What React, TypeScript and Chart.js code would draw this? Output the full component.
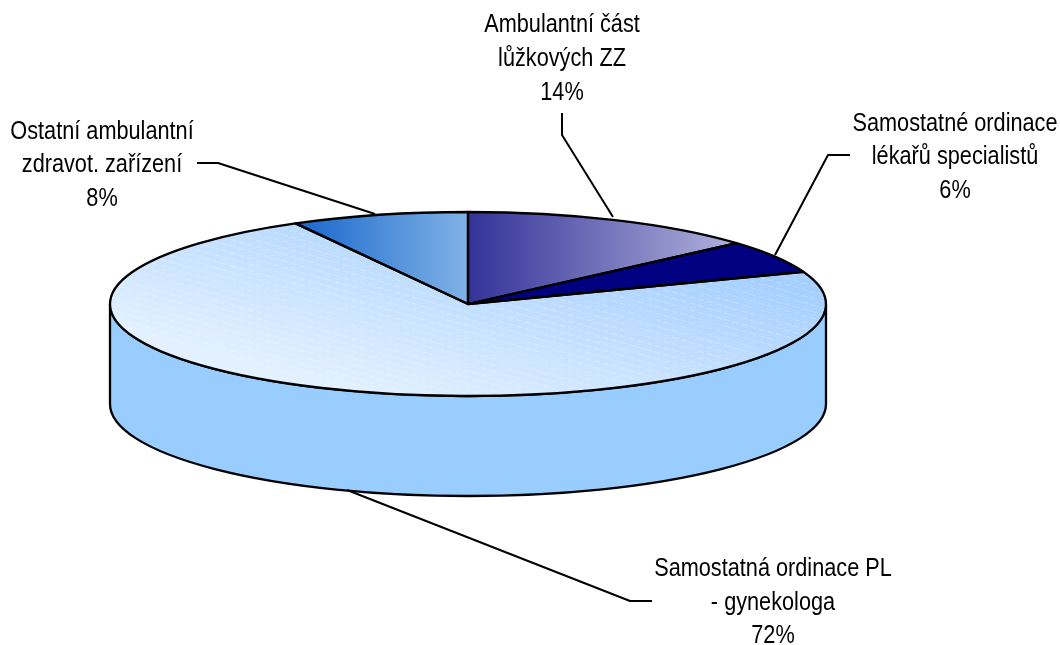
import React, { useEffect, useRef } from "react";
import { Chart, registerables } from "chart.js";

Chart.register(...registerables);

const categories = [
  "Ambulantní část lůžkových ZZ",
  "Samostatné ordinace lékařů specialistů",
  "Samostatná ordinace PL - gynekologa",
  "Ostatní ambulantní zdravot. zařízení",
];
const shares = [13.5, 5.8, 72.7, 8];
const percentLabels = ["14%", "6%", "72%", "8%"];
const labelLines = [
  ["Ambulantní část", "lůžkových ZZ"],
  ["Samostatné ordinace", "lékařů specialistů"],
  ["Samostatná ordinace PL", "- gynekologa"],
  ["Ostatní ambulantní", "zdravot. zařízení"],
];
const sideColors = ["#333399", "#000080", "#99CCFF", "#1A66CC"];

const PIE = { cx: 468, cy: 304, rx: 358, ry: 92, depth: 100 };
const LABEL_POS = [
  { x: 562, ys: [32, 66, 100] },
  { x: 955, ys: [130.5, 163.5, 197.5] },
  { x: 773, ys: [576, 610, 643] },
  { x: 102, ys: [139, 172, 206] },
];
const LEADERS = [
  [[562, 113], [562, 135], [613, 217]],
  [[850, 155], [828, 155], [775, 255]],
  [[652, 601], [630, 601], [347, 490]],
  [[197, 163], [218, 163], [375, 214]],
];
const FILLS: any[] = [
  { p0: [468, 0], p1: [737, 0], stops: ["#333399", "#B2B2DC"] },
  { color: "#000080" },
  { p0: [300, 373.5], p1: [355, 167], stops: ["#E2F0FF", "#A5CFFF"] },
  { p0: [297, 0], p1: [468, 0], stops: ["#1A66CC", "#80B3E6"] },
];

function geometry(chart: any) {
  const ox = chart.width / 2;
  const oy = chart.height / 2;
  const R = Math.min(chart.width, chart.height) / 2;
  return { ox, oy, R, sx: PIE.rx / R, sy: PIE.ry / R };
}

function sliceFill(c: any) {
  const spec = FILLS[c.dataIndex];
  if (!spec || spec.color) return spec ? spec.color : "#000";
  const { ox, oy, sx, sy } = geometry(c.chart);
  const [x0, y0] = spec.p0;
  const [x1, y1] = spec.p1;
  const L2 = (x1 - x0) ** 2 + (y1 - y0) ** 2;
  const gx = ((x1 - x0) / L2) * sx;
  const gy = ((y1 - y0) / L2) * sy;
  const G2 = gx * gx + gy * gy;
  const ux = (x0 - PIE.cx) / sx + ox;
  const uy = (y0 - PIE.cy) / sy + oy;
  const g = c.chart.ctx.createLinearGradient(ux, uy, ux + gx / G2, uy + gy / G2);
  g.addColorStop(0, spec.stops[0]);
  g.addColorStop(1, spec.stops[1]);
  return g;
}

function slicePath(ctx: CanvasRenderingContext2D, arc: any) {
  ctx.beginPath();
  ctx.moveTo(PIE.cx, PIE.cy);
  ctx.ellipse(PIE.cx, PIE.cy, PIE.rx, PIE.ry, 0, arc.startAngle, arc.endAngle);
  ctx.closePath();
}

const pie3d = {
  id: "pie3d",
  beforeDatasetsDraw(chart: any) {
    const ctx = chart.ctx;
    const { ox, oy, sx, sy } = geometry(chart);
    const arcs = chart.getDatasetMeta(0).data;
    // side wall: the part of each slice facing the viewer
    ctx.save();
    ctx.lineWidth = 2.3;
    ctx.strokeStyle = "#000";
    arcs.forEach((arc: any, i: number) => {
      const a = Math.max(arc.startAngle, 0);
      const b = Math.min(arc.endAngle, Math.PI);
      if (b <= a) return;
      ctx.beginPath();
      ctx.ellipse(PIE.cx, PIE.cy, PIE.rx, PIE.ry, 0, a, b);
      ctx.ellipse(PIE.cx, PIE.cy + PIE.depth, PIE.rx, PIE.ry, 0, b, a, true);
      ctx.closePath();
      ctx.fillStyle = sideColors[i];
      ctx.fill();
      ctx.stroke();
    });
    ctx.restore();
    ctx.save();
    ctx.translate(PIE.cx, PIE.cy);
    ctx.scale(sx, sy);
    ctx.translate(-ox, -oy);
  },
  afterDatasetsDraw(chart: any) {
    const ctx = chart.ctx;
    ctx.restore();
    const arcs = chart.getDatasetMeta(0).data;

    // fine dashed hatching on the large slice
    ctx.save();
    slicePath(ctx, arcs[2]);
    ctx.clip();
    ctx.strokeStyle = "rgba(255,255,255,0.26)";
    ctx.lineWidth = 1;
    ctx.setLineDash([6, 3]);
    for (let y = -200; y < 600; y += 6.5) {
      ctx.beginPath();
      ctx.moveTo(100, y);
      ctx.lineTo(840, y + 740 * 0.28);
      ctx.stroke();
    }
    ctx.restore();

    // slice outlines with an even line width
    ctx.save();
    ctx.strokeStyle = "#000";
    ctx.lineWidth = 2.3;
    ctx.lineJoin = "round";
    arcs.forEach((arc: any) => {
      slicePath(ctx, arc);
      ctx.stroke();
    });
    // leader lines
    ctx.lineWidth = 2;
    LEADERS.forEach((pts) => {
      ctx.beginPath();
      pts.forEach(([x, y], k) => (k ? ctx.lineTo(x, y) : ctx.moveTo(x, y)));
      ctx.stroke();
    });
    // labels: the reference's text is slightly condensed
    ctx.fillStyle = "#000";
    ctx.font = '25px "Liberation Sans", Arial, sans-serif';
    ctx.textAlign = "center";
    ctx.textBaseline = "alphabetic";
    LABEL_POS.forEach((pos, i) => {
      const lines = [...labelLines[i], percentLabels[i]];
      lines.forEach((t, k) => {
        ctx.save();
        ctx.translate(pos.x, pos.ys[k]);
        ctx.scale(0.868, 1);
        ctx.fillText(t, 0, 0);
        ctx.restore();
      });
    });
    ctx.restore();
  },
};

export default function App() {
  const ref = useRef<HTMLCanvasElement>(null);
  useEffect(() => {
    const chart = new Chart(ref.current as HTMLCanvasElement, {
      type: "pie",
      data: {
        labels: categories,
        datasets: [{ data: shares, backgroundColor: sliceFill as any, borderWidth: 0 }],
      },
      options: {
        responsive: false,
        animation: false,
        layout: { padding: 0 },
        plugins: { legend: { display: false }, tooltip: { enabled: false } },
      },
      plugins: [pie3d as any],
    });
    return () => chart.destroy();
  }, []);
  return (
    <div style={{ position: "absolute", left: 0, top: 0, width: 1060, height: 645, background: "#fff" }}>
      <canvas ref={ref} width={1060} height={645} style={{ display: "block" }} />
    </div>
  );
}
